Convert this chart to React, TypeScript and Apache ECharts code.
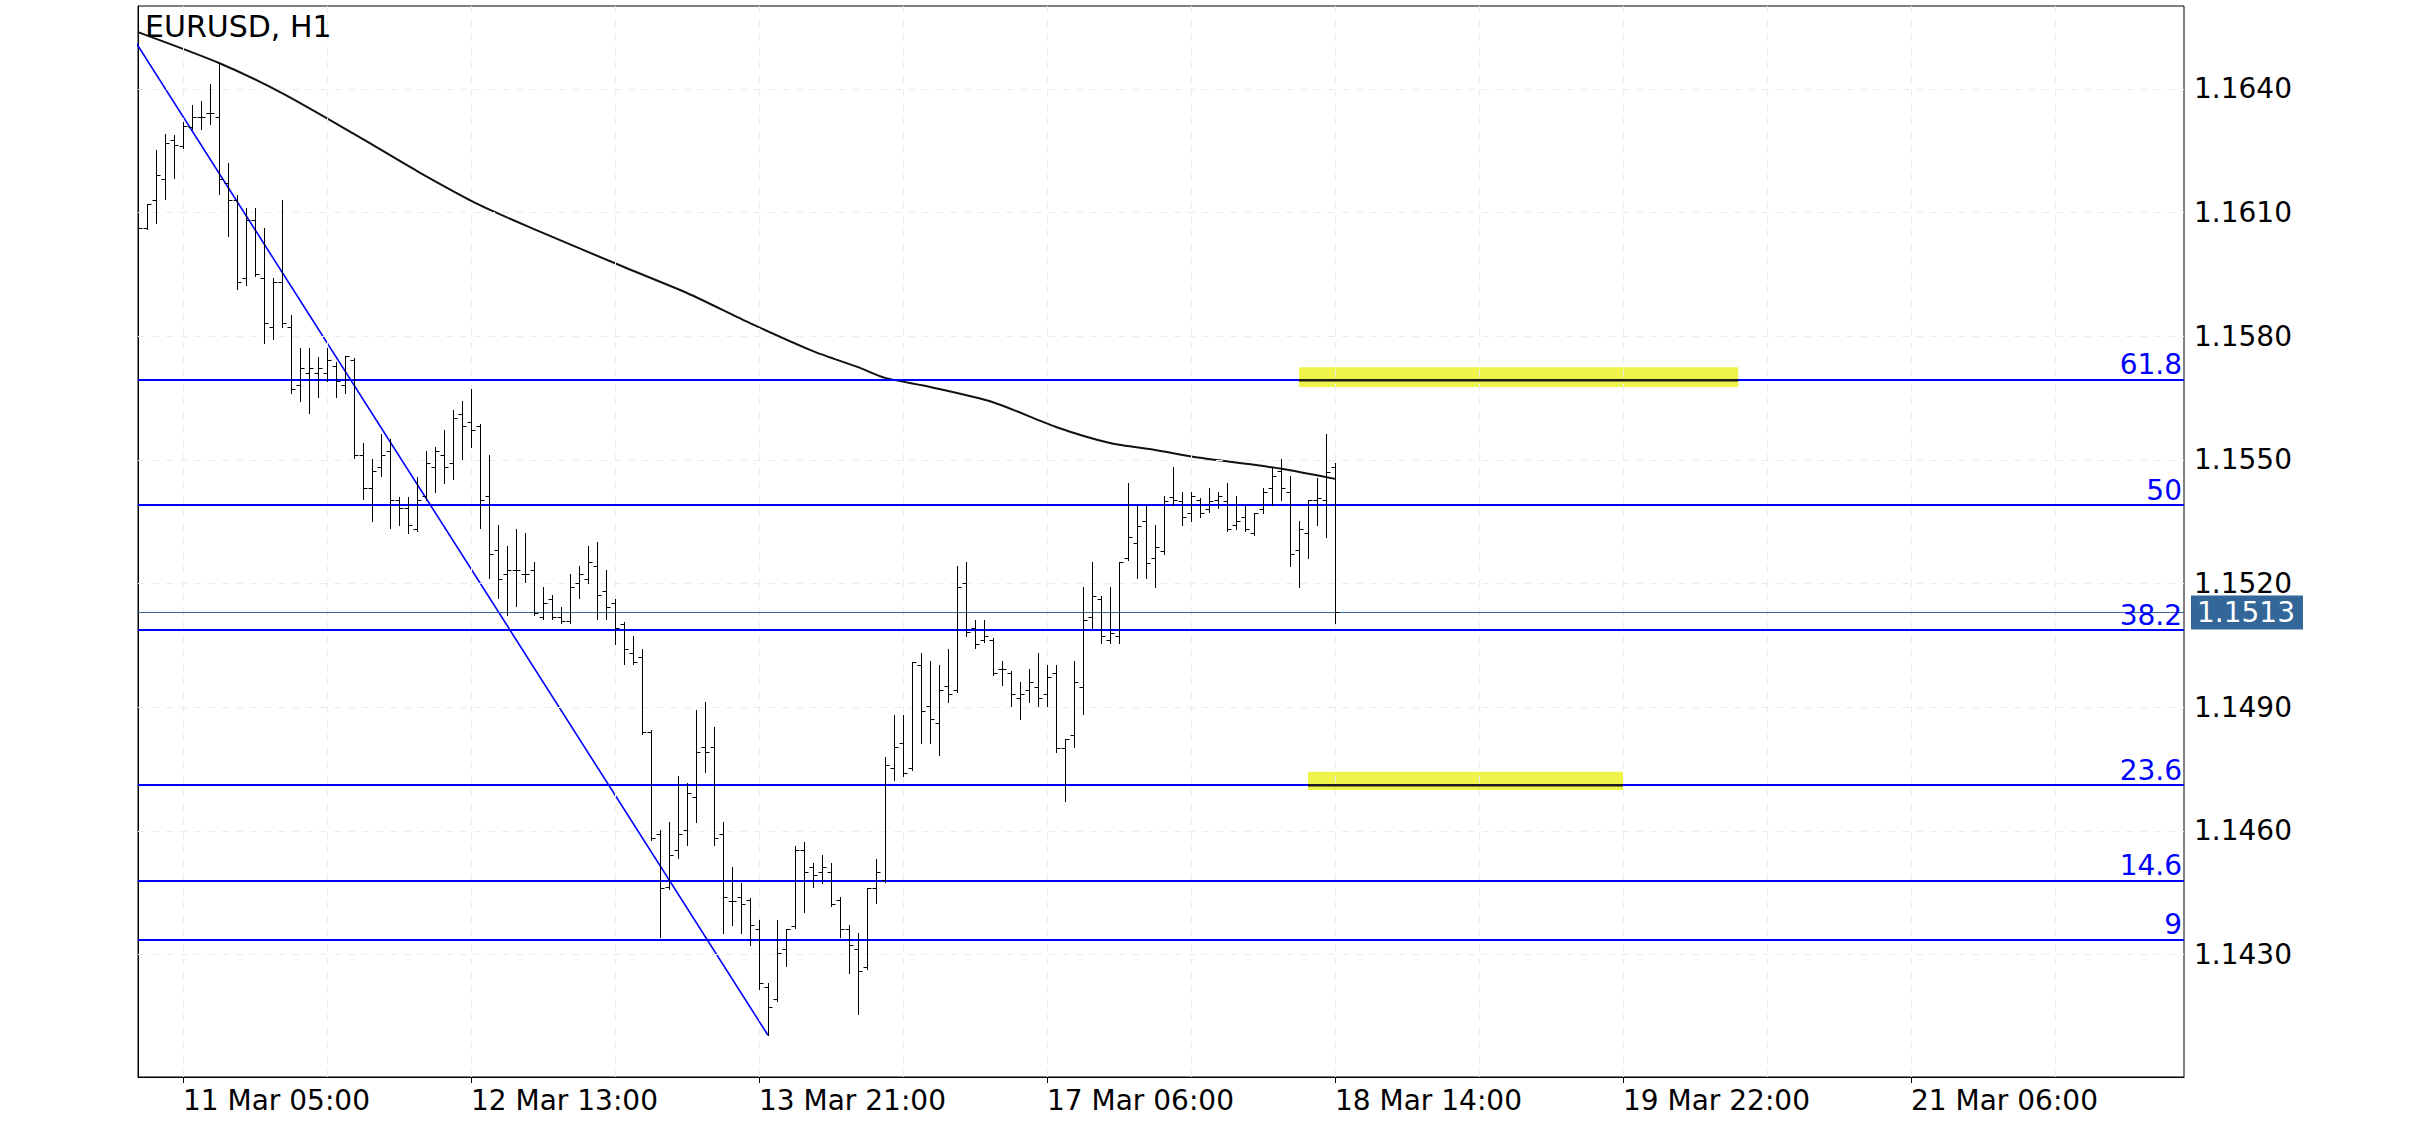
import React, { useEffect, useRef } from "react";
import * as echarts from "echarts";

// ---------- DATA ----------
const opens = [
  1.16060, 1.16063, 1.16131, 1.16182, 1.16276, 1.16262, 1.16308, 1.16332, 1.16342, 1.16332,
  1.16172, 1.16131, 1.15941, 1.16082, 1.15941, 1.15822, 1.15932, 1.15822, 1.15682, 1.15711,
  1.15711, 1.15711, 1.15728, 1.15682, 1.15742, 1.15512, 1.15432, 1.15483, 1.15522, 1.15403,
  1.15383, 1.15332, 1.15412, 1.15483, 1.15512, 1.15492, 1.15611, 1.15592, 1.15582, 1.15412,
  1.15281, 1.15223, 1.15233, 1.15223, 1.15233, 1.15119, 1.15162, 1.15119, 1.15109, 1.15201,
  1.15211, 1.15242, 1.15182, 1.15153, 1.15102, 1.15031, 1.15022, 1.14840, 1.14592, 1.14464,
  1.14553, 1.14602, 1.14682, 1.14803, 1.14803, 1.14592, 1.14430, 1.14439, 1.14432, 1.14362,
  1.14221, 1.14192, 1.14313, 1.14369, 1.14553, 1.14512, 1.14500, 1.14500, 1.14432, 1.14362,
  1.14313, 1.14269, 1.14461, 1.14481, 1.14752, 1.14813, 1.14752, 1.15002, 1.14903, 1.14862,
  1.14951, 1.14942, 1.15201, 1.15092, 1.15063, 1.15063, 1.14993, 1.14983, 1.14922, 1.14942,
  1.14949, 1.14932, 1.14983, 1.14801, 1.14832, 1.14949, 1.15119, 1.15162, 1.15063, 1.15073,
  1.15262, 1.15298, 1.15352, 1.15262, 1.15279, 1.15410, 1.15400, 1.15371, 1.15403, 1.15381,
  1.15403, 1.15400, 1.15342, 1.15361, 1.15323, 1.15381, 1.15432, 1.15473, 1.15422, 1.15281,
  1.15323, 1.15403, 1.15403, 1.15483,
];
const highs = [
  1.16072, 1.16121, 1.16252, 1.16291, 1.16288, 1.16320, 1.16361, 1.16371, 1.16412, 1.16463,
  1.16220, 1.16143, 1.16111, 1.16111, 1.16063, 1.15941, 1.16131, 1.15852, 1.15772, 1.15772,
  1.15750, 1.15772, 1.15738, 1.15752, 1.15747, 1.15541, 1.15502, 1.15563, 1.15551, 1.15410,
  1.15410, 1.15458, 1.15522, 1.15531, 1.15573, 1.15621, 1.15643, 1.15672, 1.15587, 1.15512,
  1.15342, 1.15291, 1.15332, 1.15323, 1.15252, 1.15192, 1.15172, 1.15143, 1.15223, 1.15242,
  1.15291, 1.15301, 1.15233, 1.15162, 1.15107, 1.15073, 1.15041, 1.14845, 1.14602, 1.14621,
  1.14733, 1.14716, 1.14893, 1.14912, 1.14852, 1.14621, 1.14512, 1.14473, 1.14437, 1.14383,
  1.14231, 1.14383, 1.14362, 1.14563, 1.14573, 1.14522, 1.14541, 1.14522, 1.14439, 1.14371,
  1.14352, 1.14461, 1.14531, 1.14779, 1.14881, 1.14881, 1.15010, 1.15031, 1.15012, 1.15002,
  1.15041, 1.15242, 1.15252, 1.15111, 1.15111, 1.15068, 1.15012, 1.14988, 1.14961, 1.14993,
  1.15031, 1.15002, 1.15002, 1.14823, 1.15012, 1.15192, 1.15252, 1.15170, 1.15192, 1.15252,
  1.15444, 1.15391, 1.15391, 1.15342, 1.15412, 1.15483, 1.15422, 1.15422, 1.15408, 1.15432,
  1.15422, 1.15444, 1.15412, 1.15391, 1.15371, 1.15432, 1.15483, 1.15502, 1.15461, 1.15352,
  1.15403, 1.15456, 1.15563, 1.15492,
];
const lows = [
  1.16053, 1.16060, 1.16075, 1.16133, 1.16184, 1.16257, 1.16303, 1.16303, 1.16315, 1.16145,
  1.16043, 1.15915, 1.15924, 1.15946, 1.15784, 1.15793, 1.15822, 1.15662, 1.15643, 1.15614,
  1.15653, 1.15691, 1.15653, 1.15662, 1.15505, 1.15405, 1.15352, 1.15461, 1.15335, 1.15342,
  1.15323, 1.15327, 1.15403, 1.15422, 1.15444, 1.15454, 1.15502, 1.15531, 1.15335, 1.15213,
  1.15165, 1.15124, 1.15145, 1.15204, 1.15124, 1.15114, 1.15114, 1.15104, 1.15104, 1.15165,
  1.15201, 1.15114, 1.15114, 1.15053, 1.15005, 1.15005, 1.14835, 1.14578, 1.14342, 1.14459,
  1.14534, 1.14565, 1.14621, 1.14743, 1.14565, 1.14352, 1.14371, 1.14352, 1.14323, 1.14216,
  1.14104, 1.14187, 1.14272, 1.14364, 1.14403, 1.14464, 1.14473, 1.14418, 1.14342, 1.14255,
  1.14155, 1.14265, 1.14425, 1.14476, 1.14723, 1.14733, 1.14747, 1.14813, 1.14813, 1.14784,
  1.14912, 1.14937, 1.15073, 1.15043, 1.15058, 1.14978, 1.14954, 1.14903, 1.14871, 1.14912,
  1.14903, 1.14903, 1.14791, 1.14672, 1.14803, 1.14883, 1.15092, 1.15056, 1.15056, 1.15056,
  1.15257, 1.15213, 1.15213, 1.15192, 1.15272, 1.15391, 1.15342, 1.15352, 1.15361, 1.15374,
  1.15383, 1.15327, 1.15332, 1.15327, 1.15318, 1.15371, 1.15391, 1.15403, 1.15242, 1.15192,
  1.15262, 1.15342, 1.15313, 1.15104,
];
const closes = [
  1.16063, 1.16121, 1.16191, 1.16269, 1.16264, 1.16310, 1.16332, 1.16332, 1.16342, 1.16182,
  1.16131, 1.15932, 1.16082, 1.15951, 1.15832, 1.15932, 1.15832, 1.15672, 1.15723, 1.15723,
  1.15723, 1.15742, 1.15691, 1.15752, 1.15512, 1.15432, 1.15473, 1.15512, 1.15403, 1.15383,
  1.15342, 1.15403, 1.15492, 1.15522, 1.15483, 1.15602, 1.15582, 1.15573, 1.15403, 1.15272,
  1.15211, 1.15233, 1.15233, 1.15223, 1.15128, 1.15153, 1.15119, 1.15109, 1.15192, 1.15223,
  1.15252, 1.15172, 1.15143, 1.15092, 1.15041, 1.15010, 1.14840, 1.14582, 1.14461, 1.14541,
  1.14592, 1.14692, 1.14791, 1.14791, 1.14582, 1.14439, 1.14430, 1.14422, 1.14371, 1.14231,
  1.14172, 1.14303, 1.14362, 1.14553, 1.14500, 1.14493, 1.14512, 1.14422, 1.14362, 1.14323,
  1.14260, 1.14461, 1.14500, 1.14760, 1.14803, 1.14740, 1.15010, 1.14891, 1.14871, 1.14942,
  1.14932, 1.15192, 1.15082, 1.15053, 1.15073, 1.14983, 1.14993, 1.14932, 1.14932, 1.14961,
  1.14922, 1.14973, 1.14801, 1.14823, 1.14961, 1.15111, 1.15170, 1.15073, 1.15080, 1.15252,
  1.15313, 1.15340, 1.15250, 1.15289, 1.15400, 1.15403, 1.15361, 1.15412, 1.15371, 1.15400,
  1.15412, 1.15332, 1.15352, 1.15332, 1.15371, 1.15422, 1.15461, 1.15432, 1.15272, 1.15332,
  1.15403, 1.15408, 1.15471, 1.15130,
];

// moving average read at selected bars
const maIdx = [0, 9, 16, 24, 31, 38, 44, 54, 61, 68, 75, 80, 83, 88, 95, 102, 108, 113, 118, 124, 128, 133];
const maVal = [
  1.16538, 1.16463, 1.16390, 1.16291, 1.16201, 1.16118, 1.16060, 1.15968, 1.15905, 1.15832,
  1.15764, 1.15725, 1.15699, 1.15677, 1.15640, 1.15580, 1.15541, 1.15524, 1.15505, 1.15488,
  1.15475, 1.15454,
];

// fibonacci tool: anchor points and levels
const trendIdx = [-5, 70];
const trendPrice = [1.16676, 1.14104];
const fibLabels = ["61.8", "50", "38.2", "23.6", "14.6", "9"];
const fibPrices = [1.15694, 1.1539, 1.15087, 1.14711, 1.1448, 1.14336];

// highlight boxes: start bar, end bar, top price, bottom price, marked fib level
const boxStart = [129, 130];
const boxEnd = [177.8, 165];
const boxTop = [1.15725, 1.14743];
const boxBottom = [1.15677, 1.14699];
const boxLevel = [1.15694, 1.14711];

// axes
const timeTickIdx = [5, 37, 69, 101, 133, 165, 197];
const timeTickLabels = ["11 Mar 05:00", "12 Mar 13:00", "13 Mar 21:00", "17 Mar 06:00", "18 Mar 14:00", "19 Mar 22:00", "21 Mar 06:00"];
const timeGridIdx = [5, 21, 37, 53, 69, 85, 101, 117, 133, 149, 165, 181, 197, 213];
const priceTicks = [1.143, 1.146, 1.149, 1.152, 1.155, 1.158, 1.161, 1.164];
const xMax = 227.33;
const yMin = 1.140026;
const yMax = 1.166014;

const FONT = "DejaVu Sans";

export default function App() {
  const ref = useRef<HTMLDivElement>(null);

  useEffect(() => {
    document.body.style.margin = "0";
    if (!ref.current) return;
    const chart = echarts.init(ref.current, undefined, { renderer: "svg" });

    const ohlc = opens.map((o, i) => [i, o, highs[i], lows[i], closes[i]]);
    const lastClose = closes[closes.length - 1];
    const trendData = trendIdx.map((x, i) => [x, trendPrice[i]]);
    const boxes = boxStart.map((s, i) => [s, boxEnd[i], boxTop[i], boxBottom[i]]);
    const segments = boxStart.map((s, i) => [s, boxEnd[i], boxLevel[i]]);

    const option: any = {
      animation: false,
      backgroundColor: "#ffffff",
      title: {
        text: "EURUSD, H1",
        left: 145,
        top: 11,
        padding: 0,
        textStyle: { fontFamily: FONT, fontSize: 30, fontWeight: "normal", color: "#000" },
        z: 20,
      },
      grid: {
        left: 138,
        right: 252,
        top: 6,
        bottom: 48,
        show: true,
        borderColor: "#000",
        borderWidth: 1,
        backgroundColor: "#fff",
      },
      xAxis: {
        type: "value",
        min: 0,
        max: xMax,
        position: "bottom",
        axisLine: { show: true, lineStyle: { color: "#000", width: 1 } },
        axisTick: { show: true, customValues: timeTickIdx, length: 6, lineStyle: { color: "#000" } },
        axisLabel: {
          show: true,
          customValues: timeTickIdx,
          formatter: (v: number) => {
            const k = timeTickIdx.indexOf(Math.round(v));
            return k >= 0 ? timeTickLabels[k] : "";
          },
          align: "left",
          margin: 9,
          fontFamily: FONT,
          fontSize: 28,
          color: "#000",
        },
        splitLine: { show: false },
      },
      yAxis: {
        type: "value",
        position: "right",
        min: yMin,
        max: yMax,
        scale: true,
        axisLine: { show: true, lineStyle: { color: "#000", width: 1 } },
        axisTick: { show: true, customValues: priceTicks, length: 6, lineStyle: { color: "#000" } },
        axisLabel: {
          show: true,
          customValues: priceTicks,
          formatter: (v: number) => v.toFixed(4),
          margin: 10,
          fontFamily: FONT,
          fontSize: 28,
          color: "#000",
        },
        splitLine: { show: false },
      },
      series: [
        // grid lines (helper)
        {
          type: "line",
          data: trendData,
          showSymbol: false,
          silent: true,
          lineStyle: { opacity: 0, width: 0 },
          z: 1,
          markLine: {
            silent: true,
            precision: 6,
            symbol: ["none", "none"],
            label: { show: false },
            lineStyle: { color: "#ececec", width: 1, type: [7, 7] },
            data: [
              ...priceTicks.map((p) => ({ yAxis: p })),
              ...timeGridIdx.map((x) => ({ xAxis: x })),
            ],
          },
        },
        // highlight boxes (behind the fib levels)
        {
          type: "custom",
          z: 2,
          clip: true,
          silent: true,
          encode: { x: [0, 1], y: [2, 3] },
          data: boxes,
          renderItem: (_params: any, api: any) => {
            const p0 = api.coord([api.value(0), api.value(2)]);
            const p1 = api.coord([api.value(1), api.value(3)]);
            return {
              type: "rect",
              shape: { x: p0[0], y: p0[1], width: p1[0] - p0[0], height: p1[1] - p0[1] },
              style: { fill: "#eef44c" },
            };
          },
        },
        // fib trend line + levels
        {
          type: "line",
          data: trendData,
          showSymbol: false,
          clip: true,
          silent: true,
          lineStyle: { color: "#0000ff", width: 1.6 },
          z: 3,
          markLine: {
            silent: true,
            precision: 6,
            symbol: ["none", "none"],
            lineStyle: { color: "#0000ff", width: 2.2, type: "solid" },
            label: {
              show: true,
              position: "insideEndTop",
              color: "#0000ff",
              fontFamily: FONT,
              fontSize: 28,
              distance: [2, 1],
            },
            data: fibPrices.map((p, i) => ({ yAxis: p, label: { formatter: fibLabels[i] } })),
          },
        },
        // moving average + current price
        {
          type: "line",
          data: maIdx.map((x, i) => [x, maVal[i]]),
          showSymbol: false,
          smooth: 0.25,
          silent: true,
          lineStyle: { color: "#111", width: 2 },
          z: 4,
          markLine: {
            silent: true,
            precision: 6,
            symbol: ["none", "none"],
            lineStyle: { color: "#336699", width: 1, type: "solid" },
            label: {
              show: true,
              position: "end",
              distance: 7,
              formatter: lastClose.toFixed(4),
              color: "#fff",
              backgroundColor: "#336699",
              fontFamily: FONT,
              fontSize: 28,
              lineHeight: 28,
              padding: [3, 8, 3, 6],
            },
            data: [{ yAxis: lastClose }],
          },
        },
        // dark segment of the level inside each box
        {
          type: "custom",
          z: 7,
          clip: true,
          silent: true,
          encode: { x: [0, 1], y: 2 },
          data: segments,
          renderItem: (_params: any, api: any) => {
            const a = api.coord([api.value(0), api.value(2)]);
            const b = api.coord([api.value(1), api.value(2)]);
            return {
              type: "rect",
              shape: { x: a[0], y: Math.round(a[1]) - 1, width: b[0] - a[0], height: 2.5 },
              style: { fill: "#1a1a1a" },
            };
          },
        },
        // OHLC bars
        {
          type: "custom",
          z: 6,
          clip: true,
          silent: true,
          encode: { x: 0, y: [1, 2, 3, 4] },
          data: ohlc,
          renderItem: (_params: any, api: any) => {
            const i = api.value(0);
            const pO = api.coord([i, api.value(1)]);
            const pH = api.coord([i, api.value(2)]);
            const pL = api.coord([i, api.value(3)]);
            const pC = api.coord([i, api.value(4)]);
            const x = Math.round(pO[0]) + 0.5;
            const yo = Math.round(pO[1]) + 0.5;
            const yc = Math.round(pC[1]) + 0.5;
            const st = { stroke: "#000", lineWidth: 1 };
            return {
              type: "group",
              children: [
                { type: "line", shape: { x1: x, y1: Math.round(pH[1]), x2: x, y2: Math.round(pL[1]) + 1 }, style: st },
                { type: "line", shape: { x1: x - 4, y1: yo, x2: x, y2: yo }, style: st },
                { type: "line", shape: { x1: x, y1: yc, x2: x + 4, y2: yc }, style: st },
              ],
            };
          },
        },
      ],
    };

    chart.setOption(option);
    return () => chart.dispose();
  }, []);

  return <div ref={ref} style={{ width: 2436, height: 1125 }} />;
}
